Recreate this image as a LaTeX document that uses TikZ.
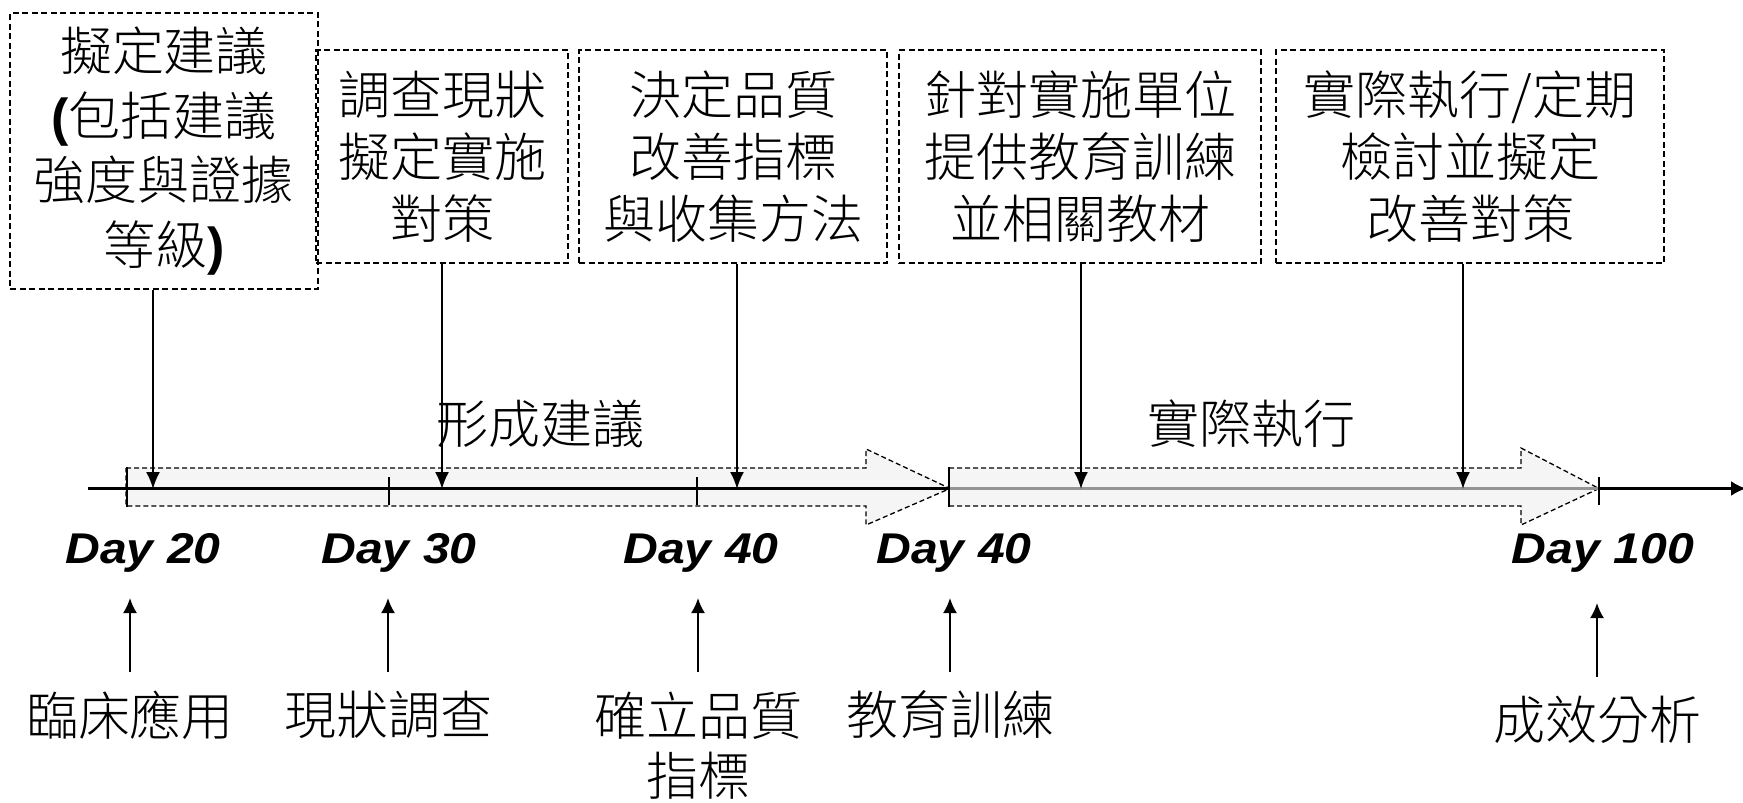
\documentclass[tikz,border=0pt]{standalone}
\usepackage{fontspec}
\setmainfont{Liberation Sans}
\newfontfamily\dayfont{Liberation Sans}[FakeStretch=1.12]
\IfFontExistsTF{Noto Sans CJK TC Light}
  {\newfontfamily\cjk{Noto Sans CJK TC Light}}
  {\newfontfamily\cjk{Noto Sans CJK TC}}
\usetikzlibrary{arrows.meta}
\begin{document}
\begin{tikzpicture}[x=1pt,y=-1pt,
  stepbox/.style={draw, dash pattern=on 6pt off 3.5pt, line width=1.4pt, align=center, inner sep=0pt,
    font=\cjk\fontsize{52}{62}\selectfont},
  bigarrow/.style={draw, fill=black!4, dash pattern=on 5pt off 3pt, line width=1.3pt},
  darr/.style={line width=2pt, -{Latex[length=17pt,width=14pt]}},
  uarr/.style={line width=2pt, -{Latex[length=15pt,width=14pt]}},
  tick/.style={line width=1.3pt},
  daylbl/.style={font=\dayfont\fontsize{43}{50}\selectfont\bfseries\itshape, anchor=base, inner sep=0pt},
  cjklbl/.style={font=\cjk\fontsize{52}{60}\selectfont, align=center, inner sep=0pt},
  phaselbl/.style={font=\cjk\fontsize{52}{60}\selectfont, inner sep=0pt}
]
\useasboundingbox (0,0) rectangle (1743,803);

% boxes
\node[stepbox, minimum width=308pt, minimum height=276pt, font=\cjk\fontsize{52}{64.5}\selectfont] (b1) at (164,151)
  {擬定建議\\{\rmfamily\bfseries (}包括建議\\強度與證據\\等級{\rmfamily\bfseries )}};
\node[stepbox, minimum width=252pt, minimum height=213pt] (b2) at (442,156.5) {調查現狀\\擬定實施\\對策};
\node[stepbox, minimum width=308pt, minimum height=213pt] (b3) at (733,156.5) {決定品質\\改善指標\\與收集方法};
\node[stepbox, minimum width=362pt, minimum height=213pt] (b4) at (1080,156.5) {針對實施單位\\提供教育訓練\\並相關教材};
\node[stepbox, minimum width=388pt, minimum height=213pt] (b5) at (1470,156.5) {實際執行/定期\\檢討並擬定\\改善對策};

% phase arrows
\draw[bigarrow] (126,468) -- (866,468) -- (866,449) -- (950,488.5) -- (866,525) -- (866,506) -- (126,506) -- cycle;
\draw[bigarrow] (949,468) -- (1521,468) -- (1521,448) -- (1599,488.5) -- (1521,525) -- (1521,506) -- (949,506) -- cycle;

% phase labels
\node[phaselbl] (p1) at (540,424) {形成建議};
\node[phaselbl] (p2) at (1251,424) {實際執行};

% main line
\coordinate (L0) at (88,488.5);
\coordinate (L1) at (949,488.5);
\coordinate (L2) at (1599,488.5);
\coordinate (L3) at (1746,488.5);
\draw[line width=2.2pt] (L0) -- (L1);
\draw[line width=2.2pt, black!42] (L1) -- (L2);
\draw[line width=2.2pt, -{Latex[length=15pt,width=15pt]}] (L2) -- (L3);

% ticks
\draw[tick] (127,467) -- (127,507);
\draw[tick] (389,477) -- (389,505);
\draw[tick] (697,477) -- (697,505);
\draw[tick] (949,467) -- (949,507);
\draw[tick] (1599,477) -- (1599,505);

% down arrows
\coordinate (m1) at (153,489);
\coordinate (m2) at (442,489);
\coordinate (m3) at (737,489);
\coordinate (m4) at (1081,489);
\coordinate (m5) at (1463,489);
\draw[darr] (b1.south -| m1) -- (m1);
\draw[darr] (b2.south -| m2) -- (m2);
\draw[darr] (b3.south -| m3) -- (m3);
\draw[darr] (b4.south -| m4) -- (m4);
\draw[darr] (b5.south -| m5) -- (m5);

% day labels
\node[daylbl] (d1) at (143,563) {Day 20};
\node[daylbl] (d2) at (399,563) {Day 30};
\node[daylbl] (d3) at (701,563) {Day 40};
\node[daylbl] (d4) at (954,563) {Day 40};
\node[daylbl] (d5) at (1603,563) {Day 100};

% bottom labels
\node[cjklbl] (l1) at (130,715) {臨床應用};
\node[cjklbl] (l2) at (388,715) {現狀調查};
\node[cjklbl] (l3) at (698,746) {確立品質\\指標};
\node[cjklbl] (l4) at (950,715) {教育訓練};
\node[cjklbl] (l5) at (1597,720) {成效分析};

% up arrows
\coordinate (u1) at (130,672); \coordinate (t1) at (130,598);
\coordinate (u2) at (388,672); \coordinate (t2) at (388,598);
\coordinate (u3) at (698,672); \coordinate (t3) at (698,598);
\coordinate (u4) at (950,672); \coordinate (t4) at (950,598);
\coordinate (u5) at (1597,677); \coordinate (t5) at (1597,603);
\draw[uarr] (u1) -- (t1);
\draw[uarr] (u2) -- (t2);
\draw[uarr] (u3) -- (t3);
\draw[uarr] (u4) -- (t4);
\draw[uarr] (u5) -- (t5);
\end{tikzpicture}
\end{document}
